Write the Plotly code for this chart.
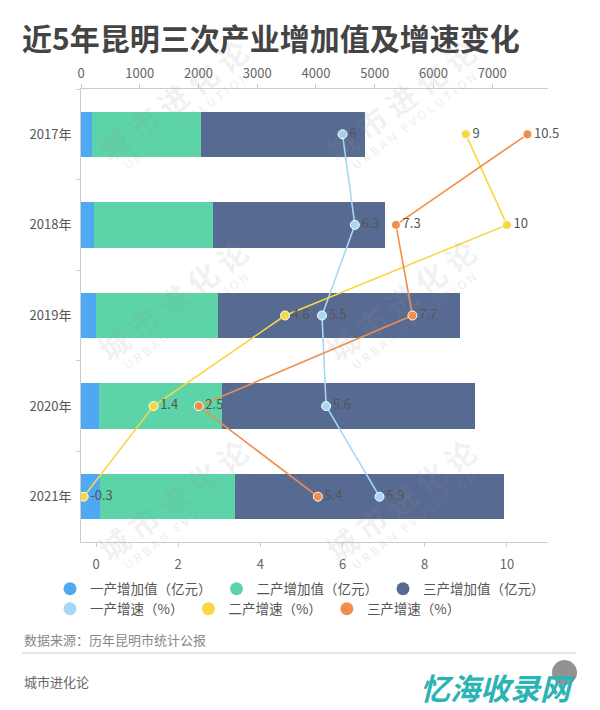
import plotly.graph_objects as go

# ---------------- data ----------------
years = ["2017年", "2018年", "2019年", "2020年", "2021年"]
primary_value = [190, 215, 260, 305, 325]        # 一产增加值（亿元）
secondary_value = [1860, 2030, 2070, 2100, 2290]  # 二产增加值（亿元）
tertiary_value = [2780, 2930, 4120, 4300, 4580]   # 三产增加值（亿元）
primary_growth = [6, 6.3, 5.5, 5.6, 6.9]          # 一产增速（%）
secondary_growth = [9, 10, 4.6, 1.4, -0.3]        # 二产增速（%）
tertiary_growth = [10.5, 7.3, 7.7, 2.5, 5.4]      # 三产增速（%）
value_ticks = [0, 1000, 2000, 3000, 4000, 5000, 6000, 7000]
growth_ticks = [0, 2, 4, 6, 8, 10]

bar_names = ["一产增加值（亿元）", "二产增加值（亿元）", "三产增加值（亿元）"]
line_names = ["一产增速（%）", "二产增速（%）", "三产增速（%）"]
bar_colors = ["#4fa8f2", "#5cd4a7", "#566a92"]
line_colors = ["#a6d8f5", "#f7d744", "#f08f4b"]

FONT = "Noto Sans CJK SC"
PL, PR, PT, PB = 81, 548, 89, 542  # plot area in pixels


def px(xp):
    return (xp - PL) / (PR - PL)


def py(yp):
    return (PB - yp) / (PB - PT)


fig = go.Figure()

# stacked horizontal bars on the (top) value axis
for name, vals, col in zip(bar_names, [primary_value, secondary_value, tertiary_value], bar_colors):
    fig.add_trace(go.Bar(
        x=vals, y=years, orientation="h", name=name,
        marker=dict(color=col, line=dict(width=0)),
        xaxis="x", yaxis="y", showlegend=False, hoverinfo="skip",
    ))

# growth lines on the (bottom) percentage axis
for name, vals, col in zip(line_names, [primary_growth, secondary_growth, tertiary_growth], line_colors):
    fig.add_trace(go.Scatter(
        x=vals, y=years, name=name, mode="lines+markers+text",
        line=dict(color=col, width=1.6),
        marker=dict(color=col, size=9, line=dict(color="white", width=1)),
        text=[str(v) for v in vals], textposition="middle right",
        textfont=dict(family=FONT, size=13, color="#555555"),
        cliponaxis=False,
        xaxis="x2", yaxis="y", showlegend=False, hoverinfo="skip",
    ))

# legend entries (circle symbols)
for name, col in zip(bar_names, bar_colors):
    fig.add_trace(go.Scatter(x=[None], y=[None], mode="markers", name=name,
                             marker=dict(color=col, size=13), legend="legend",
                             xaxis="x", yaxis="y"))
for name, col in zip(line_names, line_colors):
    fig.add_trace(go.Scatter(x=[None], y=[None], mode="markers", name=name,
                             marker=dict(color=col, size=13), legend="legend2",
                             xaxis="x", yaxis="y"))

axis_common = dict(showgrid=False, zeroline=False, showline=True, linecolor="#cccccc",
                   linewidth=1, ticks="outside", ticklen=4, tickcolor="#cccccc",
                   tickfont=dict(family=FONT, size=13, color="#666666"), fixedrange=True)

legend_common = dict(orientation="h", xref="paper", yref="paper", traceorder="normal",
                     xanchor="left", yanchor="middle", bgcolor="rgba(0,0,0,0)",
                     font=dict(family=FONT, size=13.5, color="#555555"),
                     itemclick=False, itemdoubleclick=False, tracegroupgap=0)

# watermarks
annotations = []
for cx in [172, 400]:
    for cy in [100, 300, 500]:
        annotations.append(dict(
            xref="paper", yref="paper", x=px(cx), y=py(cy),
            text="<b>城 市 进 化 论</b>", showarrow=False, textangle=-37,
            font=dict(family=FONT, size=30, color="rgba(150,150,150,0.13)"),
            xanchor="center", yanchor="middle"))
        annotations.append(dict(
            xref="paper", yref="paper", x=px(cx + 13), y=py(cy + 20),
            text="<b>U R B A N   E V O L U T I O N</b>", showarrow=False, textangle=-37,
            font=dict(family=FONT, size=12, color="rgba(150,150,150,0.13)"),
            xanchor="center", yanchor="middle"))

annotations += [
    dict(xref="paper", yref="paper", x=px(22), y=py(639),
         text="数据来源：历年昆明市统计公报", showarrow=False, xanchor="left", yanchor="middle",
         font=dict(family=FONT, size=13, color="#888888")),
    dict(xref="paper", yref="paper", x=px(22), y=py(681),
         text="城市进化论", showarrow=False, xanchor="left", yanchor="middle",
         font=dict(family=FONT, size=13, color="#666666")),
    dict(xref="paper", yref="paper", x=px(497), y=py(687),
         text="<b><i>忆海收录网</i></b>", showarrow=False, xanchor="center", yanchor="middle",
         font=dict(family=FONT, size=30, color="#2cb4b4")),
]

fig.update_layout(
    width=600, height=710,
    margin=dict(l=PL, r=600 - PR, t=PT, b=710 - PB, pad=0),
    paper_bgcolor="white", plot_bgcolor="white",
    barmode="stack", bargap=0.5,
    font=dict(family=FONT, size=13, color="#555555"),
    title=dict(text="<b>近5年昆明三次产业增加值及增速变化</b>",
               xref="container", yref="container", x=22 / 600, y=1 - 39 / 710,
               xanchor="left", yanchor="middle",
               font=dict(family=FONT, size=30, color="#444444")),
    xaxis=dict(side="top", range=[0, 7950], tickvals=value_ticks, anchor="y",
               ticklabelstandoff=1, **axis_common),
    xaxis2=dict(side="bottom", overlaying="x", range=[-0.365, 11.0], tickvals=growth_ticks,
                anchor="y", ticklabelstandoff=6, **axis_common),
    yaxis=dict(type="category", categoryorder="array", categoryarray=years,
               autorange="reversed", tickson="boundaries", showgrid=False, zeroline=False,
               showline=True, linecolor="#cccccc", ticks="outside", ticklen=4,
               ticklabelstandoff=6,
               tickcolor="#cccccc", tickfont=dict(family=FONT, size=13, color="#555555"),
               fixedrange=True),
    legend=dict(x=px(50), y=py(589), **legend_common),
    legend2=dict(x=px(50), y=py(609), **legend_common),
    shapes=[
        dict(type="line", xref="paper", yref="paper", x0=px(22), x1=px(576),
             y0=py(653), y1=py(653), line=dict(color="#cccccc", width=1)),
        dict(type="circle", xref="paper", yref="paper",
             x0=px(552), x1=px(577), y0=py(685), y1=py(660),
             fillcolor="rgba(110,110,110,0.75)", line=dict(width=0)),
    ],
    annotations=annotations,
    hovermode=False,
)

fig.write_html("out.html", config={"displayModeBar": False})

# remove the browser's default page margin so the 600x710 figure sits at the origin
with open("out.html", "r", encoding="utf-8") as f:
    html = f.read()
html = html.replace("<body>", '<body style="margin:0;padding:0;">', 1)
with open("out.html", "w", encoding="utf-8") as f:
    f.write(html)
